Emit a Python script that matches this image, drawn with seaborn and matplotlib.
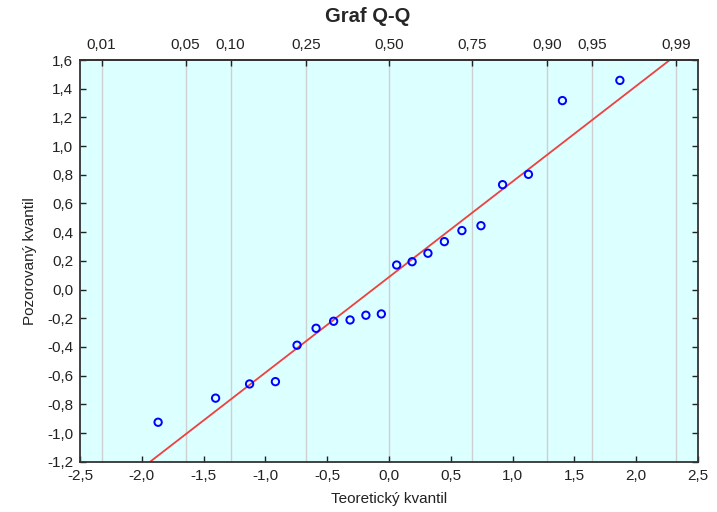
import numpy as np
import pandas as pd
import matplotlib
matplotlib.use("Agg")
import matplotlib.pyplot as plt
import seaborn as sns

# Teoretické kvantily (normální rozdělení, n = 20)
teoreticky = [-1.868, -1.403, -1.128, -0.919, -0.744, -0.590, -0.448, -0.315, -0.187, -0.062,
              0.062, 0.187, 0.315, 0.448, 0.590, 0.744, 0.919, 1.128, 1.403, 1.868]
# Pozorované kvantily
pozorovany = [-0.925, -0.757, -0.658, -0.642, -0.388, -0.270, -0.221, -0.212, -0.179, -0.170,
              0.171, 0.194, 0.253, 0.334, 0.411, 0.445, 0.731, 0.803, 1.317, 1.458]

# Přímka y = a + b*x
primka_a = 0.087
primka_b = 0.666

# Horní osa: pravděpodobnosti a jejich z-hodnoty
pravd_labels = ["0,01", "0,05", "0,10", "0,25", "0,50", "0,75", "0,90", "0,95", "0,99"]
pravd_z = [-2.326, -1.645, -1.282, -0.674, 0.0, 0.674, 1.282, 1.645, 2.326]

x_ticks = [-2.5, -2.0, -1.5, -1.0, -0.5, 0.0, 0.5, 1.0, 1.5, 2.0, 2.5]
y_ticks = [-1.2, -1.0, -0.8, -0.6, -0.4, -0.2, 0.0, 0.2, 0.4, 0.6, 0.8, 1.0, 1.2, 1.4, 1.6]

df = pd.DataFrame({"teoreticky": teoreticky, "pozorovany": pozorovany})

sns.set_style("ticks")
plt.rcParams['font.family'] = ['Liberation Sans Narrow', 'Liberation Sans', 'DejaVu Sans']

fig = plt.figure(figsize=(7.17, 5.12), dpi=100)
ax = fig.add_axes([80 / 717, 1 - 461.7 / 512, 618 / 717, 401.7 / 512])
ax.set_facecolor("#dcffff")

# svislé mřížky na pozicích pravděpodobností
for z in pravd_z:
    ax.axvline(z, color="#cfcfcf", lw=1.0, zorder=0)

ax.axline((0, primka_a), slope=primka_b, color="#f04040", lw=1.3, zorder=2)

sns.scatterplot(data=df, x="teoreticky", y="pozorovany", ax=ax, marker="o",
                s=28, facecolor="none", edgecolor="#0000ff", linewidth=1.4, zorder=3)

ax.set_xlim(-2.5, 2.5)
ax.set_ylim(-1.2, 1.6)
ax.set_xticks(x_ticks)
ax.set_yticks(y_ticks)
ax.set_xticklabels([f"{v:.1f}".replace(".", ",") for v in x_ticks])
ax.set_yticklabels([f"{v:.1f}".replace(".", ",") for v in y_ticks])
ax.tick_params(axis="both", direction="in", length=4, width=1, labelsize=11,
               colors="#222222", pad=5, right=True)

top = ax.secondary_xaxis("top")
top.set_xticks(pravd_z)
top.set_xticklabels(pravd_labels)
top.tick_params(direction="in", length=4, width=1, labelsize=11, colors="#222222", pad=6)

for sp in ax.spines.values():
    sp.set_color("#333333")
    sp.set_linewidth(1.3)
for sp in top.spines.values():
    sp.set_color("#333333")
    sp.set_linewidth(1.3)

ax.set_xlabel("Teoretický kvantil", fontsize=11, color="#222222", labelpad=7)
ax.set_ylabel("Pozorovaný kvantil", fontsize=11, color="#222222", labelpad=7)
fig.suptitle("Graf Q-Q", fontsize=14.5, fontweight="bold", family=["Liberation Sans", "DejaVu Sans"],
             x=368 / 717, y=1 - 16 / 512, va="center")

plt.savefig("out.png", dpi=100)
